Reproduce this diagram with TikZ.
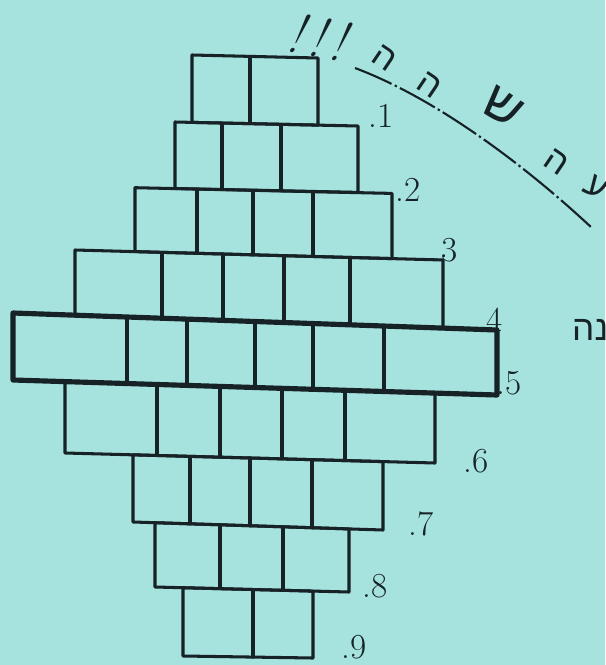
\documentclass[tikz,border=0pt]{standalone}
\usepackage{fontspec}
\newfontfamily\hebfont[Script=Hebrew]{Liberation Sans}
\TeXXeTstate=1

\definecolor{paper}{RGB}{166,227,222}
\definecolor{ink}{RGB}{22,34,38}

% one row of bricks: left x, right x, top y (left, right),
% bottom y (left, right), x of the inner joints
\newcommand{\brickrow}[7]{%
    \draw[brick] (#1,#3) -- (#2,#4) -- (#2,#6) -- (#1,#5) -- cycle;
    \foreach \x in {#7}
        \draw[brick]
            (\x,{#3+(\x-#1)*(#4-#3)/(#2-#1)})
            -- (\x,{#5+(\x-#1)*(#6-#5)/(#2-#1)});
}

\begin{document}
\begin{tikzpicture}[
    x=0.03cm,
    y=-0.03cm,
    brick/.style={
        draw=ink,
        line width=2.6pt,
        line cap=round,
        line join=round
    },
    boldrow/.style={
        draw=ink,
        line width=4.4pt,
        line join=round
    },
    rownum/.style={
        text=ink,
        inner sep=0pt,
        font=\fontsize{30}{32}\selectfont
    },
    hebletter/.style={
        text=ink,
        inner sep=0pt,
        rotate=-34,
        font=\hebfont\fontsize{30}{32}\selectfont
    },
    cutline/.style={
        draw=ink,
        line width=1.8pt,
        dash pattern=on 34pt off 3pt on 2pt off 3pt
    }
]

% ------------------------------------------------
% Paper
% ------------------------------------------------

\fill[paper] (0,0) rectangle (605,665);
\useasboundingbox (0,0) rectangle (605,665);

% ------------------------------------------------
% Rows of bricks
% ------------------------------------------------

\brickrow{192}{318}{55}{58}{122.4}{125.1}{250}
\brickrow{175}{358}{122}{126}{188.5}{192.4}{222,281}
\brickrow{135}{392}{187.7}{193.4}{251.6}{258.6}{197,253,313}
\brickrow{75}{443}{250}{260}{315.2}{328}{162,223,284,350}
\brickrow{65}{435}{381.6}{393}{453}{463}{157,220,282,345}
\brickrow{133}{383}{454.8}{461.6}{522}{530}{190,250,312}
\brickrow{155}{349}{522.7}{528.9}{587}{592}{220,283}
\brickrow{183}{313}{587.7}{591.1}{656}{658}{253}

% Row 4, drawn heavy
\draw[boldrow] (13,313) -- (497,330) -- (497,395) -- (13,380) -- cycle;
\foreach \x in {127,187,255,313,384}
    \draw[brick] (\x,{313+(\x-13)*17/484}) -- (\x,{380+(\x-13)*15/484});

% ------------------------------------------------
% Row numbers
% ------------------------------------------------

\node[rownum] (n1) at (381,116) {.1};
\node[rownum] (n2) at (408,190) {.2};
\node[rownum] (n3) at (445,250) {.3};
\node[rownum] (n4) at (490,320) {.4};
\node[rownum] (n5) at (509,383) {.5};
\node[rownum] (n6) at (476,461) {.6};
\node[rownum] (n7) at (421,524) {.7};
\node[rownum] (n8) at (375,586) {.8};
\node[rownum] (n9) at (354,647) {.9};

% ------------------------------------------------
% Notes
% ------------------------------------------------

\node[rownum, font=\fontsize{46}{48}\selectfont, xslant=0.3, rotate=-10]
    (bang) at (322,38) {!\,!\,!};

\coordinate (cutA) at (355,68);
\coordinate (cutB) at (592,228);
\draw[cutline] (cutA) .. controls (440,100) and (530,170) .. (cutB);

\node[hebletter] (h1) at (385,58) {ה};
\node[hebletter] (h2) at (430,85) {ה};
\node[hebletter, font=\hebfont\fontsize{44}{46}\selectfont]
    (h3) at (503,107) {ש};
\node[hebletter] (h4) at (557,162) {ה};
\node[hebletter] (h5) at (596,188) {ע};

% word runs off the right edge, as on the page
\node[text=ink, inner sep=0pt, anchor=west,
      font=\hebfont\fontsize{30}{32}\selectfont]
    (side) at (572,330) {\beginR י\kern0ptנ\kern0ptה\endR};

\end{tikzpicture}
\end{document}
